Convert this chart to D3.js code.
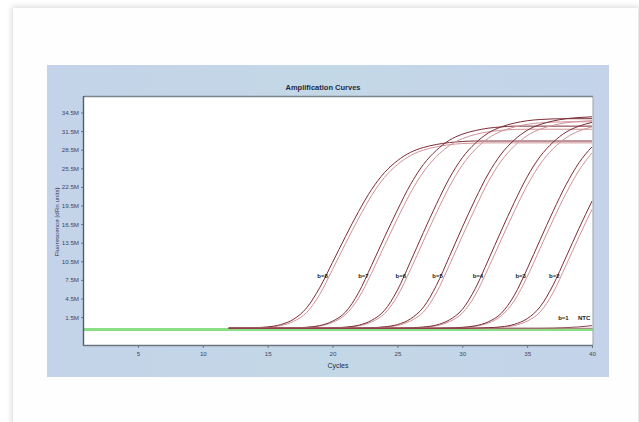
<!DOCTYPE html>
<html>
<head>
<meta charset="utf-8">
<script src="https://cdn.jsdelivr.net/npm/d3@7"></script>
<style>
  html, body { margin: 0; padding: 0; background: #ffffff; overflow: hidden; }
  #card {
    position: absolute; left: 13px; top: 8px; width: 625px; height: 500px;
    background: #fefefe; box-shadow: 0 0 6px 1px rgba(0,0,0,0.16);
  }
  svg { position: absolute; left: 0; top: 0; }
</style>
</head>
<body>
<div id="card"></div>
<svg id="chart" width="639" height="422"></svg>
<script>
// Cycle numbers at which fluorescence was recorded
const cycles = [12,13,14,15,16,17,18,19,20,21,22,23,24,25,26,27,28,29,30,31,32,33,34,35,36,37,38,39,40];

// Fluorescence readings (millions of units), two replicates per dilution
const b8a = [-0.30,-0.28,-0.21,-0.08,0.29,1.16,2.98,6.21,10.33,14.51,18.50,22.05,24.80,26.73,28.06,28.85,29.34,29.65,29.82,29.90,29.90,29.90,29.90,29.90,29.90,29.90,29.90,29.90,29.90];
const b8b = [-0.30,-0.30,-0.24,-0.14,0.12,0.82,2.24,5.14,9.18,13.36,17.38,21.08,24.02,26.09,27.55,28.43,28.96,29.31,29.49,29.57,29.60,29.60,29.60,29.60,29.60,29.60,29.60,29.60,29.60];
const b7a = [-0.30,-0.30,-0.30,-0.30,-0.30,-0.23,-0.14,0.12,0.84,2.31,5.41,9.81,14.37,18.77,22.85,26.11,28.39,30.02,31.00,31.58,31.97,32.17,32.30,32.30,32.30,32.30,32.30,32.30,32.30];
const b7b = [-0.30,-0.30,-0.30,-0.30,-0.30,-0.25,-0.16,0.05,0.65,1.91,4.56,8.56,13.02,17.39,21.50,24.90,27.39,29.15,30.28,30.95,31.38,31.62,31.77,31.80,31.80,31.80,31.80,31.80,31.80];
const b6a = [-0.30,-0.30,-0.30,-0.30,-0.30,-0.30,-0.30,-0.30,-0.23,-0.12,0.18,0.96,2.57,5.84,10.41,15.14,19.69,23.87,27.20,29.53,31.18,32.18,32.78,33.17,33.37,33.47,33.50,33.50,33.50];
const b6b = [-0.30,-0.30,-0.30,-0.30,-0.30,-0.30,-0.30,-0.30,-0.25,-0.15,0.08,0.72,2.06,4.89,9.12,13.75,18.28,22.51,26.01,28.54,30.34,31.47,32.15,32.59,32.83,32.95,33.00,33.00,33.00];
const b5a = [-0.30,-0.30,-0.30,-0.30,-0.30,-0.30,-0.30,-0.30,-0.30,-0.30,-0.29,-0.21,-0.07,0.29,1.20,3.08,6.59,11.23,15.97,20.50,24.59,27.80,30.05,31.62,32.56,33.13,33.50,33.69,33.80];
const b5b = [-0.30,-0.30,-0.30,-0.30,-0.30,-0.30,-0.30,-0.30,-0.30,-0.30,-0.30,-0.24,-0.13,0.14,0.88,2.31,5.40,9.85,14.54,19.06,23.32,26.67,29.06,30.77,31.81,32.43,32.84,33.06,33.19];
const b4a = [-0.30,-0.30,-0.30,-0.30,-0.30,-0.30,-0.30,-0.30,-0.30,-0.30,-0.30,-0.30,-0.30,-0.29,-0.22,-0.10,0.22,1.04,2.73,6.09,10.68,15.41,19.96,24.11,27.40,29.70,31.33,32.30,32.90];
const b4b = [-0.30,-0.30,-0.30,-0.30,-0.30,-0.30,-0.30,-0.30,-0.30,-0.30,-0.30,-0.30,-0.30,-0.30,-0.24,-0.15,0.09,0.76,2.14,5.05,9.36,13.99,18.51,22.71,26.17,28.65,30.42,31.52,32.18];
const b3a = [-0.30,-0.30,-0.30,-0.30,-0.30,-0.30,-0.30,-0.30,-0.30,-0.30,-0.30,-0.30,-0.30,-0.30,-0.30,-0.30,-0.30,-0.25,-0.15,0.09,0.73,2.10,4.97,9.27,13.96,18.56,22.85,26.40,28.97];
const b3b = [-0.30,-0.30,-0.30,-0.30,-0.30,-0.30,-0.30,-0.30,-0.30,-0.30,-0.30,-0.30,-0.30,-0.30,-0.30,-0.30,-0.30,-0.26,-0.18,0.01,0.54,1.69,4.11,8.00,12.59,17.16,21.47,25.17,27.96];
const b2a = [-0.30,-0.30,-0.30,-0.30,-0.30,-0.30,-0.30,-0.30,-0.30,-0.30,-0.30,-0.30,-0.30,-0.30,-0.30,-0.30,-0.30,-0.30,-0.30,-0.28,-0.21,-0.07,0.32,1.24,3.16,6.66,11.19,15.82,20.21];
const b2b = [-0.30,-0.30,-0.30,-0.30,-0.30,-0.30,-0.30,-0.30,-0.30,-0.30,-0.30,-0.30,-0.30,-0.30,-0.30,-0.30,-0.30,-0.30,-0.30,-0.30,-0.23,-0.14,0.13,0.85,2.32,5.44,9.87,14.46,18.89];
const b1  = [-0.30,-0.30,-0.30,-0.30,-0.30,-0.30,-0.30,-0.30,-0.30,-0.30,-0.30,-0.30,-0.30,-0.30,-0.30,-0.30,-0.30,-0.30,-0.30,-0.30,-0.30,-0.30,-0.30,-0.30,-0.30,-0.27,-0.20,-0.08,0.12];
const ntc = [-0.30,-0.30,-0.30,-0.30,-0.30,-0.30,-0.30,-0.30,-0.30,-0.30,-0.30,-0.30,-0.30,-0.30,-0.30,-0.30,-0.30,-0.30,-0.30,-0.30,-0.30,-0.30,-0.30,-0.30,-0.30,-0.30,-0.30,-0.30,-0.30];

// Threshold level (millions)
const threshold = -0.5;

// Dilution labels and their replicate pairs
const dilutionLabels = ["b=8","b=7","b=6","b=5","b=4","b=3","b=2"];
const dilutionPairs  = [[b8a,b8b],[b7a,b7b],[b6a,b6b],[b5a,b5b],[b4a,b4b],[b3a,b3b],[b2a,b2b]];
const flatLabels = ["b=1","NTC"];

// Axis ticks
const xTicks = [5,10,15,20,25,30,35,40];
const yTicks = [1.5,4.5,7.5,10.5,13.5,16.5,19.5,22.5,25.5,28.5,31.5,34.5];
const yTickLabels = ["1.5M","4.5M","7.5M","10.5M","13.5M","16.5M","19.5M","22.5M","25.5M","28.5M","31.5M","34.5M"];

const svg = d3.select("#chart");
const panel = { x: 47, y: 65, w: 562, h: 312 };
const plot  = { x: 84, y: 97, w: 509, h: 248 };

const x = d3.scaleLinear().domain([0.84, 40]).range([plot.x, plot.x + 508]);
const y = d3.scaleLinear().domain([-3, 37]).range([plot.y + plot.h, plot.y]);

// Blue instrument panel
const defs = svg.append("defs");
const grad = defs.append("linearGradient").attr("id", "panelGrad")
  .attr("x1", 0).attr("x2", 1).attr("y1", 0).attr("y2", 0);
grad.append("stop").attr("offset", "0%").attr("stop-color", "#c4d3e9");
grad.append("stop").attr("offset", "50%").attr("stop-color", "#c3d8e7");
grad.append("stop").attr("offset", "100%").attr("stop-color", "#c4d3ea");
svg.append("rect").attr("x", panel.x).attr("y", panel.y).attr("width", panel.w).attr("height", panel.h)
  .attr("fill", "url(#panelGrad)");

defs.append("clipPath").attr("id", "plotClip")
  .append("rect").attr("x", plot.x).attr("y", plot.y).attr("width", plot.w).attr("height", plot.h);

// Plot area
svg.append("rect").attr("x", plot.x).attr("y", plot.y).attr("width", plot.w).attr("height", plot.h)
  .attr("fill", "#ffffff");

// Title
svg.append("text").attr("x", 323).attr("y", 90).attr("text-anchor", "middle")
  .attr("font-family", "Liberation Sans, Arial, sans-serif").attr("font-size", 7.5)
  .attr("font-weight", "bold").attr("fill", "#1f2a44").text("Amplification Curves");

const g = svg.append("g").attr("clip-path", "url(#plotClip)");

// Threshold line
g.append("line").attr("x1", plot.x).attr("x2", plot.x + plot.w)
  .attr("y1", y(threshold)).attr("y2", y(threshold))
  .attr("stroke", "#8ade84").attr("stroke-width", 2.8);

const line = d3.line().x((d, i) => x(cycles[i])).y(d => y(d)).curve(d3.curveMonotoneX);

// Flat curves
[b1, ntc].forEach((s, k) => {
  g.append("path").attr("d", line(s)).attr("fill", "none")
    .attr("stroke", k ? "#b07078" : "#7a3038").attr("stroke-width", 0.9);
});

// Amplification curves: lighter replicate under darker one
dilutionPairs.forEach(pair => {
  g.append("path").attr("d", line(pair[1])).attr("fill", "none")
    .attr("stroke", "#cf9399").attr("stroke-width", 1);
  g.append("path").attr("d", line(pair[0])).attr("fill", "none")
    .attr("stroke", "#7d2c36").attr("stroke-width", 1);
});

// Plot frame
svg.append("line").attr("x1", plot.x).attr("x2", plot.x + plot.w).attr("y1", plot.y - 0.5).attr("y2", plot.y - 0.5)
  .attr("stroke", "#7d8590").attr("stroke-width", 1.6);
svg.append("line").attr("x1", plot.x - 0.5).attr("x2", plot.x - 0.5).attr("y1", plot.y - 1).attr("y2", plot.y + plot.h + 1)
  .attr("stroke", "#555c66").attr("stroke-width", 1.4);
svg.append("line").attr("x1", plot.x + plot.w).attr("x2", plot.x + plot.w).attr("y1", plot.y).attr("y2", plot.y + plot.h)
  .attr("stroke", "#9aa3ad").attr("stroke-width", 1);
svg.append("line").attr("x1", plot.x - 1).attr("x2", plot.x + plot.w).attr("y1", plot.y + plot.h + 0.5).attr("y2", plot.y + plot.h + 0.5)
  .attr("stroke", "#6c7480").attr("stroke-width", 1.3);

// Axes
const fontFam = "Liberation Sans, Arial, sans-serif";
const yAxis = svg.append("g").attr("transform", `translate(${plot.x - 1},0)`)
  .call(d3.axisLeft(y).tickValues(yTicks).tickSize(2).tickPadding(2)
    .tickFormat((d, i) => yTickLabels[i]));
const xAxis = svg.append("g").attr("transform", `translate(0,${plot.y + plot.h + 1})`)
  .call(d3.axisBottom(x).tickValues(xTicks).tickSize(2).tickPadding(4));
[yAxis, xAxis].forEach(a => {
  a.select(".domain").remove();
  a.selectAll("line").attr("stroke", "#6c7480");
  a.selectAll("text").attr("font-family", fontFam).attr("font-size", 6.2).attr("fill", "#3b4866");
});

// Axis titles
svg.append("text").attr("x", 338).attr("y", 368).attr("text-anchor", "middle")
  .attr("font-family", fontFam).attr("font-size", 7).attr("fill", "#1f2a44").text("Cycles");
svg.append("text").attr("transform", "translate(59,222) rotate(-90)").attr("text-anchor", "middle")
  .attr("font-family", fontFam).attr("font-size", 6.2).attr("fill", "#2d3855")
  .text("Fluorescence (dRn units)");

// Dilution labels beside each curve
const labelLevel = 8.2;
dilutionPairs.forEach((pair, k) => {
  const s = pair[0];
  let c = cycles[cycles.length - 1];
  for (let i = 1; i < s.length; i++) {
    if (s[i] >= labelLevel) {
      const t = (labelLevel - s[i - 1]) / (s[i] - s[i - 1]);
      c = cycles[i - 1] + t * (cycles[i] - cycles[i - 1]);
      break;
    }
  }
  svg.append("text").attr("x", x(c) + 2).attr("y", y(labelLevel) + 2.5).attr("text-anchor", "end")
    .attr("font-family", fontFam).attr("font-size", 6).attr("font-weight", "bold")
    .attr("fill", "#1a1a1a").text(dilutionLabels[k]);
});
const flatLabelPos = [[37.8, 1.0], [39.4, 1.0]];
flatLabels.forEach((t, k) => {
  svg.append("text").attr("x", x(flatLabelPos[k][0])).attr("y", y(flatLabelPos[k][1]))
    .attr("text-anchor", "middle").attr("font-family", fontFam).attr("font-size", 6)
    .attr("font-weight", "bold").attr("fill", "#1a1a1a").text(t);
});
</script>
</body>
</html>
